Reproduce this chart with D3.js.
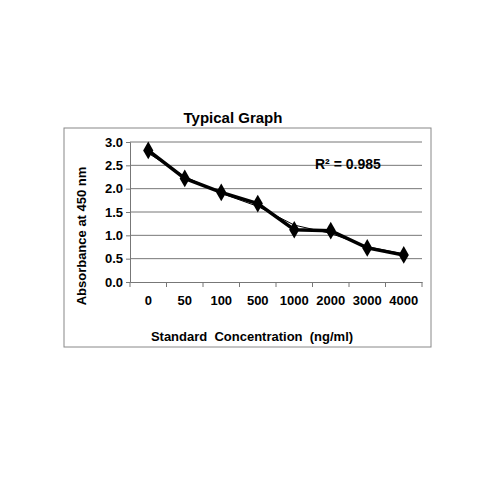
<!DOCTYPE html>
<html><head><script src="https://cdn.jsdelivr.net/npm/d3@7"></script>
<style>body{margin:0;background:#fff}</style></head>
<body><svg width="500" height="500"></svg>
<script>
const categories = ['0','50','100','500','1000','2000','3000','4000'];
const absorbance = [2.82, 2.22, 1.92, 1.68, 1.12, 1.10, 0.73, 0.58];
const trend = [2.76, 2.26, 1.90, 1.62, 1.22, 1.04, 0.76, 0.60];
const yTicks = [0, 0.5, 1, 1.5, 2, 2.5, 3];

const svg = d3.select('svg');
const font = 'Arial, "Liberation Sans", sans-serif';
const plotLeft = 130, plotRight = 422, plotTop = 142, plotBottom = 282;

svg.append('rect').attr('x', 64).attr('y', 128).attr('width', 367).attr('height', 219)
  .attr('fill', 'none').attr('stroke', '#888').attr('stroke-width', 1);

const x = d3.scaleBand().domain(categories).range([plotLeft, plotRight]);
const y = d3.scaleLinear().domain([0, 3]).range([plotBottom, plotTop]);

svg.append('g').selectAll('line').data(yTicks.slice(1)).enter().append('line')
  .attr('x1', plotLeft).attr('x2', plotRight).attr('y1', d => y(d)).attr('y2', d => y(d))
  .attr('stroke', '#777').attr('stroke-width', 1);

const yAxis = svg.append('g').attr('transform', `translate(${plotLeft},0)`)
  .call(d3.axisLeft(y).tickValues(yTicks).tickFormat(d3.format('.1f')).tickSize(4));
const xAxis = svg.append('g').attr('transform', `translate(0,${plotBottom})`)
  .call(d3.axisBottom(x).tickSize(0).tickPadding(14));
xAxis.selectAll('.tick').append('line').attr('x1', -x.bandwidth()/2).attr('x2', -x.bandwidth()/2)
  .attr('y2', 5).attr('stroke', '#777');
xAxis.append('line').attr('x1', plotRight).attr('x2', plotRight).attr('y2', 5).attr('stroke', '#777');
[yAxis, xAxis].forEach(a => {
  a.selectAll('path,line').attr('stroke', '#777');
  a.selectAll('text').attr('font-family', font).attr('font-weight', 'bold')
    .attr('font-size', 13).attr('fill', '#000');
});

const cx = d => x(d) + x.bandwidth()/2;
svg.append('path').datum(trend)
  .attr('d', d3.line().x((d, i) => cx(categories[i])).y(d => y(d)))
  .attr('fill', 'none').attr('stroke', '#000').attr('stroke-width', 1);
svg.append('path').datum(absorbance)
  .attr('d', d3.line().x((d, i) => cx(categories[i])).y(d => y(d)))
  .attr('fill', 'none').attr('stroke', '#000').attr('stroke-width', 3.5);
svg.append('g').selectAll('path').data(absorbance).enter().append('path')
  .attr('transform', (d, i) => `translate(${cx(categories[i])},${y(d)})`)
  .attr('d', d3.symbol(d3.symbolDiamond, 90)).attr('fill', '#000');

svg.append('text').attr('x', 233).attr('y', 123).attr('text-anchor', 'middle')
  .attr('font-family', font).attr('font-weight', 'bold').attr('font-size', 15).text('Typical Graph');
svg.append('text').attr('x', 315).attr('y', 169)
  .attr('font-family', font).attr('font-weight', 'bold').attr('font-size', 14).text('R² = 0.985');
svg.append('text').attr('x', 252).attr('y', 341).attr('text-anchor', 'middle')
  .attr('font-family', font).attr('font-weight', 'bold').attr('font-size', 13)
  .attr('xml:space', 'preserve').text('Standard  Concentration  (ng/ml)');
svg.append('text').attr('transform', 'translate(86,236) rotate(-90)').attr('text-anchor', 'middle')
  .attr('font-family', font).attr('font-weight', 'bold').attr('font-size', 13).text('Absorbance at 450 nm');
</script></body></html>
